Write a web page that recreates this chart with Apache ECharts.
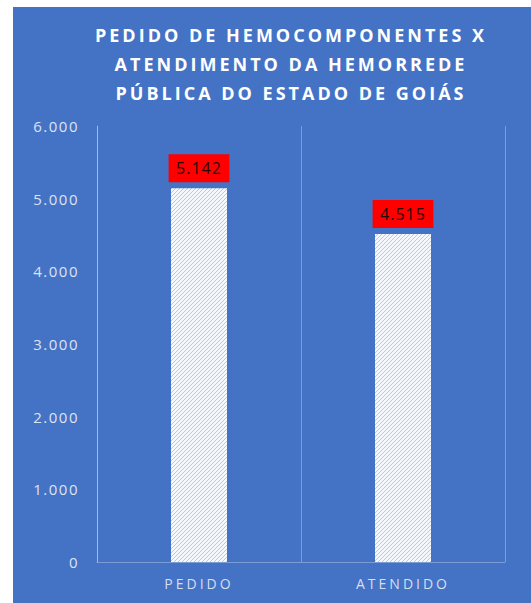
<!DOCTYPE html>
<html>
<head>
<meta charset="utf-8">
<script src="https://cdn.jsdelivr.net/npm/echarts@6/dist/echarts.min.js"></script>
<style>
  html, body { margin: 0; padding: 0; background: #fff; }
  #chart { position: absolute; left: 13px; top: 7px; width: 518px; height: 596px; background: #4472c4; }
  /* letter spacing for the svg texts, picked by font size */
  #chart text[style*="18px"] { letter-spacing: 3px; }
  #chart text[style*="14px"] { letter-spacing: 3px; }
  #chart text[style*="15px"] { letter-spacing: 1.5px; }
  #chart text[style*="16px"] { letter-spacing: 1px; }
</style>
</head>
<body>
<div id="chart"></div>
<script>
const title = 'PEDIDO DE HEMOCOMPONENTES X\nATENDIMENTO DA HEMORREDE\nPÚBLICA DO ESTADO DE GOIÁS'
const categories = ['PEDIDO', 'ATENDIDO']
const values = [5142, 4515]
const yMax = 6000
const yStep = 1000

// ponto como separador de milhar
const fmt = v => String(v).replace(/\B(?=(\d{3})+(?!\d))/g, '.')

// hachura branca com riscos diagonais finos
const makeHatch = () => {
  const c = document.createElement('canvas')
  c.width = 4
  c.height = 4
  const ctx = c.getContext('2d')
  ctx.fillStyle = '#f4f7fc'
  ctx.fillRect(0, 0, 4, 4)
  ctx.fillStyle = '#b9c8e7'
  for (let i = 0; i < 4; i++) ctx.fillRect(i, 3 - i, 1, 1)
  return c
}

const chart = echarts.init(document.getElementById('chart'), null, { renderer: 'svg' })

const lineColor = 'rgba(255,255,255,0.3)'

chart.setOption({
  backgroundColor: '#4472c4',
  title: {
    text: title,
    left: 273,
    top: 8,
    textAlign: 'center',
    textStyle: {
      color: '#ffffff',
      fontFamily: 'Open Sans',
      fontWeight: 'bold',
      fontSize: 18,
      lineHeight: 29
    }
  },
  grid: { left: 84, right: 26, top: 119, bottom: 41 },
  xAxis: {
    type: 'category',
    data: categories,
    axisLine: { lineStyle: { color: lineColor } },
    axisTick: { show: false },
    splitLine: { show: true, lineStyle: { color: lineColor } },
    axisLabel: {
      color: '#d6def0',
      fontFamily: 'Open Sans',
      fontSize: 14,
      margin: 14
    }
  },
  yAxis: {
    type: 'value',
    min: 0,
    max: yMax,
    interval: yStep,
    axisLine: { show: true, lineStyle: { color: lineColor } },
    axisTick: { show: false },
    splitLine: { show: false },
    axisLabel: {
      color: '#dce4f4',
      fontFamily: 'Open Sans',
      fontSize: 15,
      margin: 18,
      formatter: fmt
    }
  },
  series: [{
    type: 'bar',
    data: values,
    barWidth: 56,
    itemStyle: { color: { image: makeHatch(), repeat: 'repeat' } },
    label: {
      show: true,
      position: 'top',
      distance: 6,
      formatter: p => fmt(p.value),
      backgroundColor: '#ff0000',
      padding: [5, 10],
      color: '#2a0505',
      fontFamily: 'Open Sans',
      fontSize: 16,
      lineHeight: 18
    }
  }],
  animation: false
})
</script>
</body>
</html>
